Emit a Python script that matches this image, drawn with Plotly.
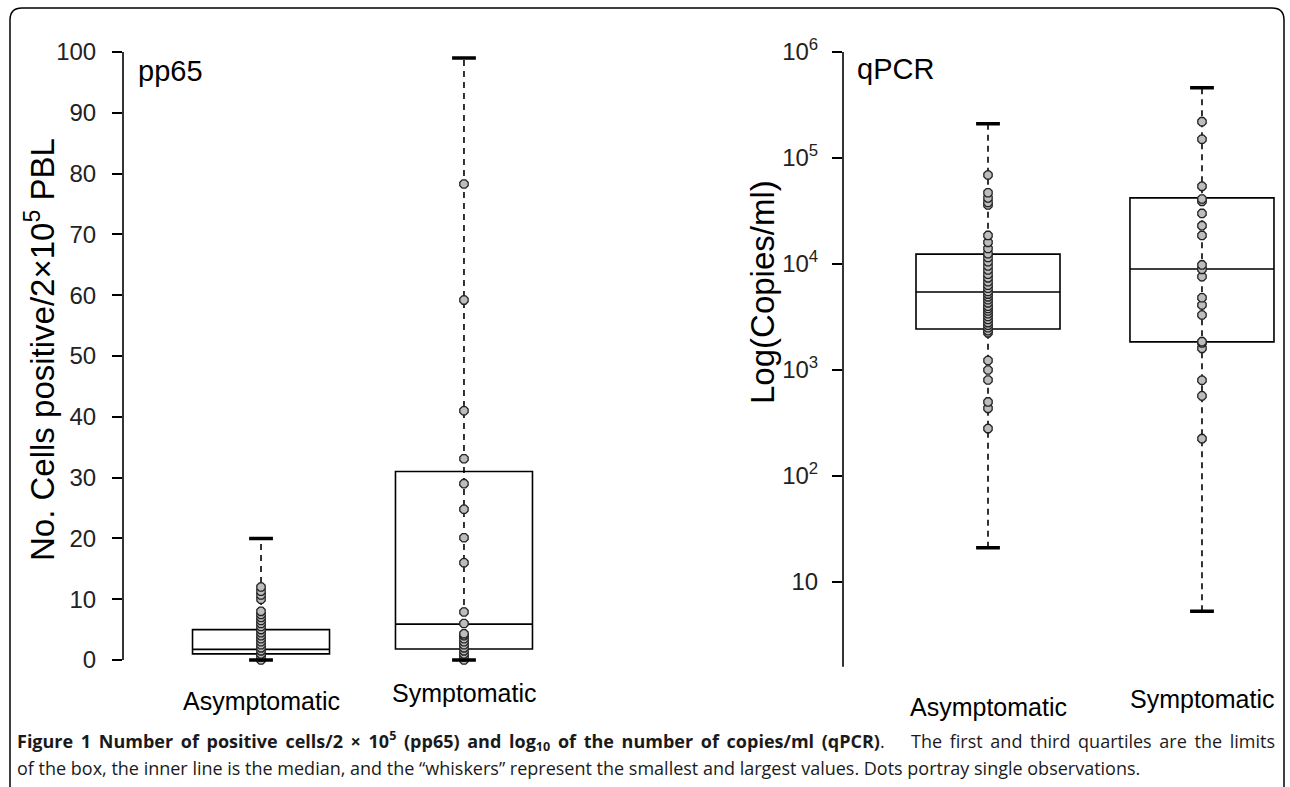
import plotly.graph_objects as go

# ---------------- data ----------------
categories = ["Asymptomatic", "Symptomatic"]

# pp65 (left panel): box statistics
pp65_min = [0, 0]
pp65_q1 = [1.0, 1.8]
pp65_median = [1.75, 5.9]
pp65_q3 = [5.0, 31.0]
pp65_max = [20, 99]
# individual observations (visible dots)
pp65_asym_points = [0, 0.5, 1, 1.5, 2, 2.5, 3, 3.5, 4, 4.5, 5, 5.5, 6, 6.5, 7, 7.5, 8, 10, 10.7, 11.3, 12]
pp65_sym_points = [0, 0.5, 1, 1.5, 2, 2.5, 3, 3.5, 4, 4.3, 6, 7.9, 16, 20.1, 24.8, 29, 33.1, 41, 59.2, 78.3]

# qPCR (right panel): box statistics
qpcr_min = [21, 5.3]
qpcr_q1 = [2440, 1840]
qpcr_median = [5450, 8970]
qpcr_q3 = [12400, 42000]
qpcr_max = [210000, 460000]
qpcr_asym_points = [280, 435, 500, 805, 1000, 1230,
                    2240, 2350, 2500, 2650, 2800, 3000, 3200, 3400, 3600, 3800, 4000,
                    4300, 4600, 4900, 5200, 5500, 5900, 6300, 6800, 7400, 8000, 8800,
                    9600, 10500, 11500, 12500, 14000, 16000, 18600,
                    36000, 38000, 42000, 47000, 69000]
qpcr_sym_points = [225, 570, 800, 1600, 1800, 1850, 3300, 4100, 4800, 7600, 8900, 9800,
                   18600, 23000, 30000, 39000, 41000, 54000, 150000, 220000]

pp65_ticks = [0, 10, 20, 30, 40, 50, 60, 70, 80, 90, 100]
qpcr_ticks = [10, 100, 1000, 10000, 100000, 1000000]
qpcr_ticktext = ["10", "10<sup>2</sup>", "10<sup>3</sup>", "10<sup>4</sup>", "10<sup>5</sup>", "10<sup>6</sup>"]

caption_bold = "Figure 1 Number of positive cells/2 × 10<sup>5</sup> (pp65) and log<sub>10</sub> of the number of copies/ml (qPCR)"
caption_rest1 = "The first and third quartiles are the limits"
caption_line2 = ("of the box, the inner line is the median, and the “whiskers” represent the smallest "
                 "and largest values. Dots portray single observations.")

# ---------------- layout helpers ----------------
W, H = 1290, 787
def px(x):
    return x / W
def py(y):
    return 1 - y / H

def justify(s):
    # widen word gaps to mimic the justified first caption line
    return s.replace(" ", " \u2009")

AX_FONT = "Liberation Sans, Arial, sans-serif"
CAP_FONT = "Open Sans, Noto Sans, sans-serif"
POINT_FILL = "#bdbdbd"

fig = go.Figure()

def add_panel(xa, ya, mins, q1, med, q3, maxs, pts_list, box_width):
    # boxes (whiskers collapsed into the box; dashed whiskers are drawn separately)
    fig.add_trace(go.Box(
        x=categories, q1=q1, median=med, q3=q3, lowerfence=q1, upperfence=q3,
        xaxis=xa, yaxis=ya, width=box_width, boxpoints=False,
        fillcolor="rgba(255,255,255,0)", line=dict(color="black", width=1.6),
        whiskerwidth=0, showlegend=False, hoverinfo="skip"))
    for i, cat in enumerate(categories):
        # dashed whisker from min to max
        fig.add_trace(go.Scatter(
            x=[cat, cat], y=[mins[i], maxs[i]], mode="lines", xaxis=xa, yaxis=ya,
            line=dict(color="black", width=1.6, dash="6px,5px"),
            showlegend=False, hoverinfo="skip"))
        # dots
        fig.add_trace(go.Scatter(
            x=[cat] * len(pts_list[i]), y=pts_list[i], mode="markers", xaxis=xa, yaxis=ya,
            marker=dict(symbol="octagon", size=9, color=POINT_FILL,
                        line=dict(color="#222222", width=1.3)),
            showlegend=False, hoverinfo="skip"))
        # whisker caps
        fig.add_trace(go.Scatter(
            x=[cat, cat], y=[mins[i], maxs[i]], mode="markers", xaxis=xa, yaxis=ya,
            marker=dict(symbol="line-ew", size=17, line=dict(color="black", width=3.5)),
            showlegend=False, hoverinfo="skip"))

add_panel("x", "y", pp65_min, pp65_q1, pp65_median, pp65_q3, pp65_max,
          [pp65_asym_points, pp65_sym_points], 0.675)
add_panel("x2", "y2", qpcr_min, qpcr_q1, qpcr_median, qpcr_q3, qpcr_max,
          [qpcr_asym_points, qpcr_sym_points], 0.673)

ydom = [py(684.3), py(27.7)]

fig.update_layout(
    width=W, height=H, margin=dict(l=0, r=0, t=0, b=0),
    paper_bgcolor="white", plot_bgcolor="white",
    xaxis=dict(domain=[px(123), px(602)], type="category", categoryarray=categories,
               range=[-0.68, 1.68], showticklabels=False, showgrid=False, zeroline=False,
               showline=False, ticks=""),
    yaxis=dict(domain=ydom, range=[-4, 104], tickvals=pp65_ticks, showgrid=False,
               zeroline=False, showline=False, ticks="outside", ticklen=10, tickwidth=1.6,
               tickcolor="black", ticklabelstandoff=11,
               tickfont=dict(family=AX_FONT, size=24, color="#222222")),
    xaxis2=dict(domain=[px(843), px(1288)], type="category", categoryarray=categories,
                range=[-0.6776, 1.402], showticklabels=False, showgrid=False, zeroline=False,
                showline=False, ticks="", anchor="y2"),
    yaxis2=dict(domain=ydom, type="log", range=[0.035, 6.229], tickvals=qpcr_ticks,
                ticktext=qpcr_ticktext, showgrid=False, zeroline=False, showline=False,
                ticks="outside", ticklen=10, tickwidth=1.6, tickcolor="black",
                ticklabelstandoff=9, anchor="x2",
                tickfont=dict(family=AX_FONT, size=24, color="#222222")),
)

# axis lines (R-style: only spanning the tick range)
fig.add_shape(type="line", xref="paper", yref="y", x0=px(123), x1=px(123), y0=0, y1=100,
              line=dict(color="black", width=1.6))
fig.add_shape(type="line", xref="paper", yref="y2", x0=px(843), x1=px(843), y0=10 ** 0.2, y1=1e6,
              line=dict(color="black", width=1.6))

# outer frame with rounded top corners
r = 12
x0, y0, x1, y1 = 10, 8, 1284, 790
path = (f"M {px(x0)} {py(y1)} L {px(x0)} {py(y0 + r)} "
        f"Q {px(x0)} {py(y0)} {px(x0 + r)} {py(y0)} "
        f"L {px(x1 - r)} {py(y0)} Q {px(x1)} {py(y0)} {px(x1)} {py(y0 + r)} "
        f"L {px(x1)} {py(y1)}")
fig.add_shape(type="path", xref="paper", yref="paper", path=path,
              line=dict(color="black", width=1.5))

ann = []
# panel labels
ann.append(dict(text="pp65", xref="paper", yref="paper", x=px(136), y=py(71),
                xanchor="left", yanchor="middle", showarrow=False,
                font=dict(family=AX_FONT, size=29, color="black")))
ann.append(dict(text="qPCR", xref="paper", yref="paper", x=px(855), y=py(69),
                xanchor="left", yanchor="middle", showarrow=False,
                font=dict(family=AX_FONT, size=29, color="black")))
# y titles
ann.append(dict(text="No. Cells positive/2×10<sup>5</sup> PBL", xref="paper", yref="paper",
                x=px(40), y=py(350), xanchor="center", yanchor="middle", textangle=-90,
                showarrow=False, font=dict(family=AX_FONT, size=33, color="black")))
ann.append(dict(text="Log(Copies/ml)", xref="paper", yref="paper",
                x=px(763), y=py(292), xanchor="center", yanchor="middle", textangle=-90,
                showarrow=False, font=dict(family=AX_FONT, size=33, color="black")))
# category labels
for xa, ys in (("x", (701, 693)), ("x2", (707, 699))):
    for cat, yy in zip(categories, ys):
        ann.append(dict(text=cat, xref=xa, yref="paper", x=cat, y=py(yy),
                        xanchor="center", yanchor="middle", showarrow=False,
                        font=dict(family=AX_FONT, size=25, color="black")))
# caption (first line justified: left part + right part)
ann.append(dict(text="<b>" + justify(caption_bold) + "</b>.",
                xref="paper", yref="paper", x=px(15), y=py(741), xanchor="left", yanchor="middle",
                showarrow=False, font=dict(family=CAP_FONT, size=18, color="#1a1a1a")))
ann.append(dict(text=justify(caption_rest1),
                xref="paper", yref="paper", x=px(1277), y=py(741), xanchor="right", yanchor="middle",
                showarrow=False, font=dict(family=CAP_FONT, size=18, color="#1a1a1a")))
ann.append(dict(text=caption_line2,
                xref="paper", yref="paper", x=px(15), y=py(768), xanchor="left", yanchor="middle",
                showarrow=False, font=dict(family=CAP_FONT, size=18, color="#1a1a1a")))
fig.update_layout(annotations=ann)

fig.write_html("out.html", config={"displayModeBar": False},
               post_script="document.body.style.margin='0px';document.body.style.overflow='hidden';")
